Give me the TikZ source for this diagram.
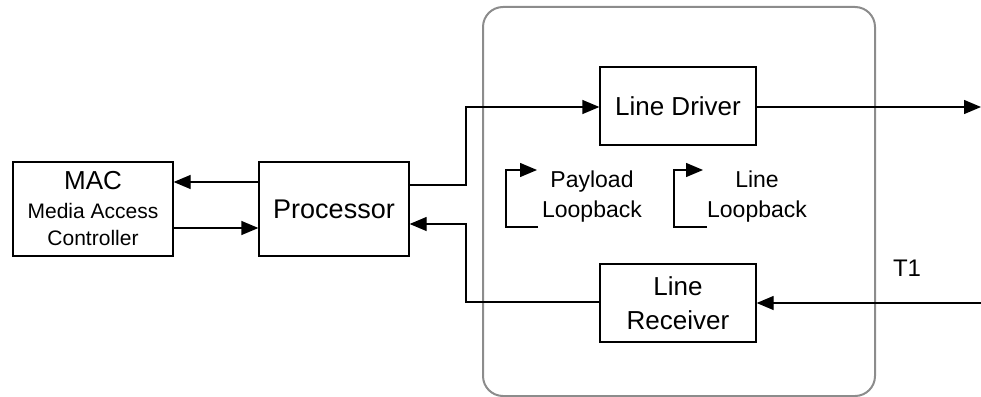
\documentclass[tikz,border=0pt]{standalone}
\usepackage{fontspec}
\setmainfont{Liberation Sans}
\usetikzlibrary{arrows.meta}
\tikzset{
  blockbox/.style={draw=black, line width=1.3pt, rectangle, inner sep=0pt, align=center},
  conn/.style={draw=black, line width=1.3pt, -{Triangle[length=17pt,width=14pt]}},
  frame/.style={draw=black!45, line width=2pt, rounded corners=20pt, inner sep=0pt},
  plain/.style={align=center, inner sep=0pt}
}
\begin{document}
\begin{tikzpicture}[x=1pt,y=-1pt]
\useasboundingbox (0,0) rectangle (981,396);
% container
\node[frame, minimum width=392pt, minimum height=389pt] (box) at (679,201.5) {};
% blocks
\node[blockbox, minimum width=160pt, minimum height=94pt,
      font=\fontsize{21}{27}\selectfont] (mac) at (93,209)
      {{\fontsize{26}{30}\selectfont MAC}\\[2pt]Media Access\\Controller};
\node[blockbox, minimum width=150pt, minimum height=94pt,
      font=\fontsize{27}{32}\selectfont] (proc) at (334,209) {Processor};
\node[blockbox, minimum width=156pt, minimum height=78pt,
      font=\fontsize{26}{32}\selectfont] (ld) at (678,106) {Line Driver};
\node[blockbox, minimum width=156pt, minimum height=78pt,
      font=\fontsize{26}{34}\selectfont] (lr) at (678,303) {Line\\Receiver};
% labels
\node[plain, font=\fontsize{23}{30}\selectfont] (pl) at (592,197) {Payload\\Loopback};
\node[plain, font=\fontsize{23}{30}\selectfont] (ll) at (757,197) {Line\\Loopback};
\node[plain, font=\fontsize{24}{28}\selectfont] (t1) at (907,268) {T1};
% free ends
\coordinate (out) at (981,107);
\coordinate (in) at (981,303);
% connectors
\draw[conn] (proc.west |- 0,182) -- (mac.east |- 0,182);
\draw[conn] (mac.east |- 0,228) -- (proc.west |- 0,228);
\draw[conn] (proc.east |- 0,185) -- (466,185) -- (466,107) -- (ld.west |- 0,107);
\draw[conn] (lr.west |- 0,302) -- (466,302) -- (466,224) -- (proc.east |- 0,224);
\draw[conn] (ld.east |- 0,107) -- (out);
\draw[conn] (in) -- (lr.east |- 0,303);
% loopback symbols
\draw[conn] (538,227) -- (506,227) -- (506,170) -- (537,170);
\draw[conn] (707,227) -- (674,227) -- (674,170) -- (703,170);
\end{tikzpicture}
\end{document}
